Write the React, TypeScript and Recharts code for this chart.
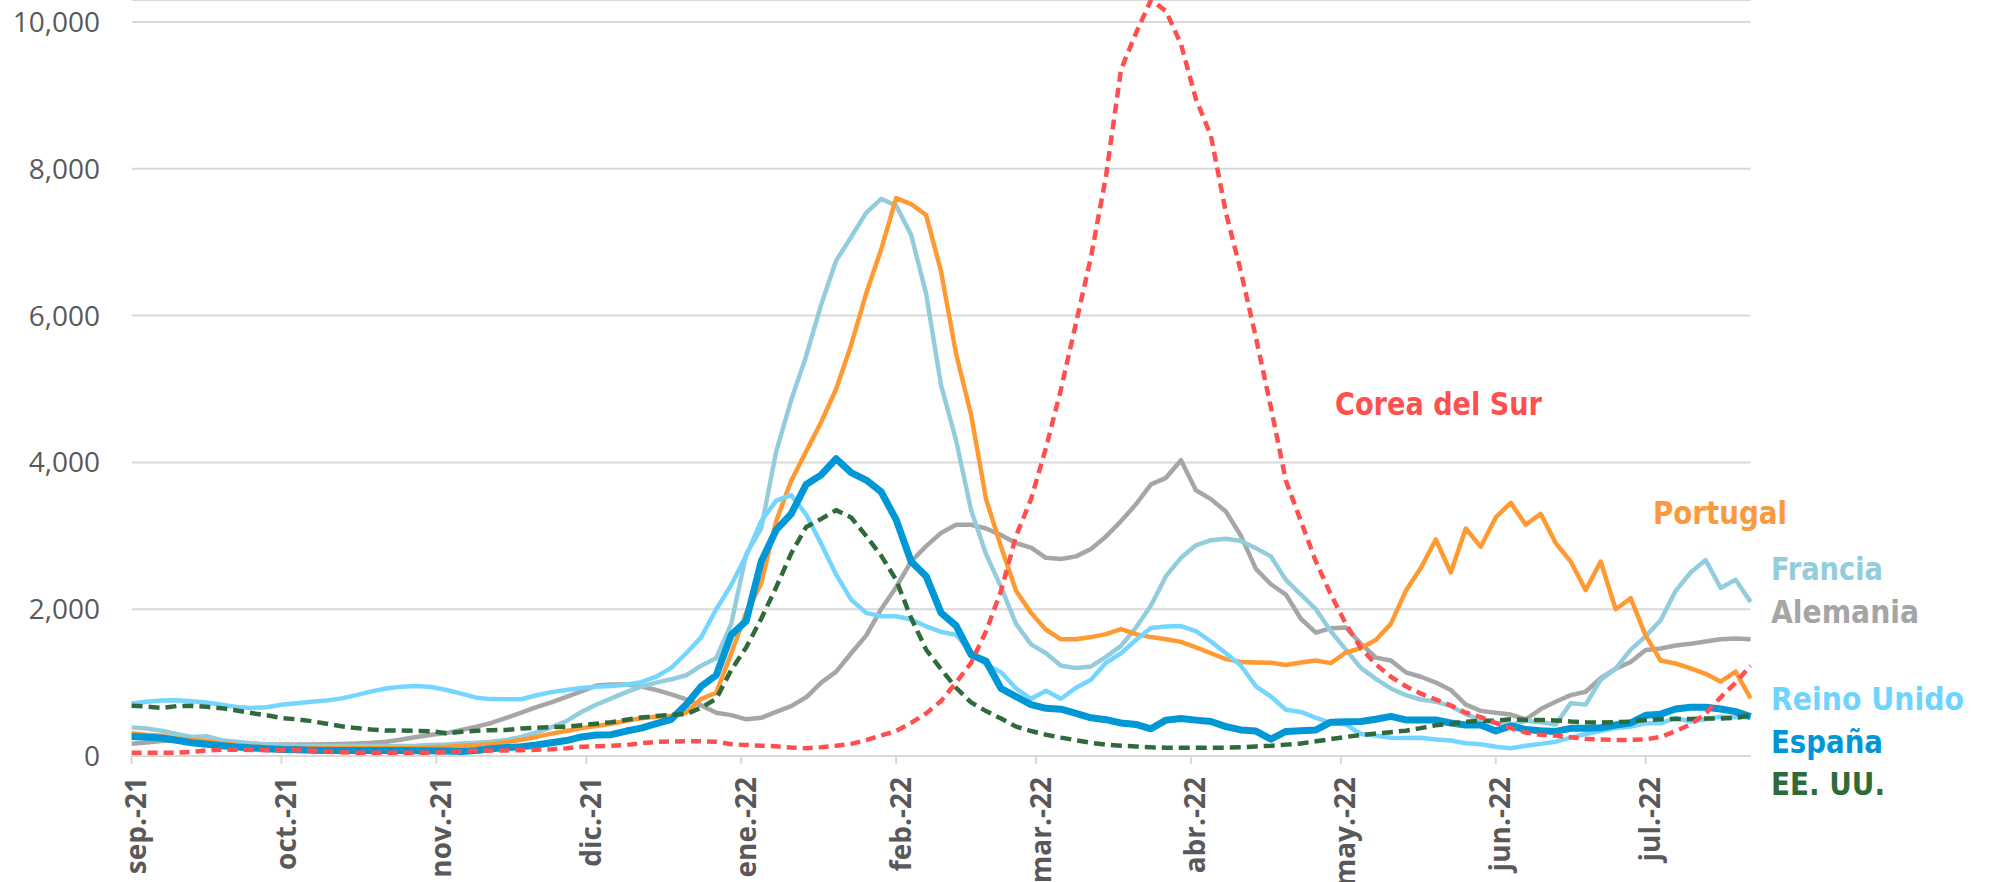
import { LineChart, Line, XAxis, YAxis, CartesianGrid } from 'recharts';

// one sample every 3 days, starting 1 Sep 2021 (day 0) up to 22 Jul 2022 (day 324)
const STEP_DAYS = 3;

const MONTH_TICKS = [0, 30, 61, 91, 122, 153, 181, 212, 242, 273, 303];
const MONTH_LABELS = [
  'sep.-21', 'oct.-21', 'nov.-21', 'dic.-21', 'ene.-22', 'feb.-22',
  'mar.-22', 'abr.-22', 'may.-22', 'jun.-22', 'jul.-22',
];
const Y_TICKS = [0, 2000, 4000, 6000, 8000, 10000];

const FRANCIA = [
  390, 375, 345, 300, 260, 270, 215, 195, 175, 157,
  145, 140, 135, 135, 135, 135, 135, 135, 135, 140,
  150, 157, 170, 180, 195, 218, 260, 320, 390, 475,
  600, 700, 785, 870, 945, 1000, 1045, 1100, 1230, 1335,
  1800, 2750, 3100, 4150, 4850, 5450, 6150, 6750, 7070, 7400,
  7590, 7500, 7100, 6300, 5050, 4300, 3350, 2750, 2300, 1800,
  1520, 1400, 1230, 1200, 1220, 1350, 1500, 1750, 2050, 2450,
  2700, 2870, 2940, 2960, 2930, 2830, 2720, 2400, 2200, 2000,
  1700, 1450, 1200, 1050, 920, 830, 770, 740, 680, 570,
  490, 450, 425, 480, 460, 430, 720, 700, 1040, 1190,
  1450, 1630, 1850, 2250, 2500, 2670, 2290, 2400, 2100,
];

const ALEMANIA = [
  166, 185, 205, 211, 205, 189, 170, 160, 157, 157,
  157, 157, 157, 160, 165, 172, 180, 195, 225, 260,
  290, 312, 355, 400, 450, 520, 590, 665, 730, 805,
  880, 960, 975, 975, 945, 900, 840, 770, 690, 590,
  557, 500, 520, 600, 680, 800, 1000, 1150, 1400, 1640,
  2000, 2300, 2650, 2860, 3040, 3150, 3150, 3100, 3010, 2900,
  2840, 2700, 2685, 2720, 2820, 2990, 3200, 3430, 3700, 3790,
  4030, 3620, 3500, 3330, 3000, 2550, 2340, 2200, 1870, 1680,
  1741, 1750, 1530, 1340, 1300, 1140, 1080, 1000, 900, 700,
  615, 590, 565, 500, 640, 740, 830, 875, 1060, 1190,
  1280, 1445, 1465, 1505, 1530, 1560, 1590, 1600, 1590,
];

const PORTUGAL = [
  310, 290, 275, 240, 220, 205, 175, 150, 130, 118,
  112, 110, 110, 110, 110, 110, 110, 110, 110, 110,
  118, 125, 140, 150, 160, 190, 220, 260, 305, 340,
  380, 410, 440, 480, 515, 535, 550, 590, 780, 860,
  1400, 1950, 2350, 3200, 3750, 4150, 4550, 5000, 5600, 6300,
  6900, 7600, 7520, 7370, 6600, 5480, 4650, 3500, 2850, 2250,
  1950, 1720, 1590, 1590, 1620, 1660, 1730, 1660, 1620, 1590,
  1555, 1480, 1400, 1320, 1280, 1275, 1270, 1240, 1275, 1300,
  1265, 1410, 1470, 1580, 1800, 2250, 2560, 2950, 2500, 3100,
  2850, 3250, 3450, 3150, 3300, 2900, 2650, 2260, 2650, 2000,
  2150, 1640, 1300, 1260, 1195, 1120, 1014, 1150, 786,
];

const REINO_UNIDO = [
  715, 740, 755, 760, 745, 730, 697, 668, 655, 665,
  697, 720, 740, 755, 785, 830, 880, 920, 945, 953,
  940, 900, 850, 795, 775, 773, 773, 827, 870, 900,
  925, 945, 955, 970, 1005, 1080, 1200, 1400, 1620, 2000,
  2330, 2730, 3200, 3480, 3555, 3290, 2890, 2470, 2130, 1950,
  1903, 1903, 1860, 1767, 1690, 1653, 1420, 1246, 1140, 920,
  780, 890, 780, 930, 1040, 1270, 1400, 1580, 1745, 1765,
  1770, 1700, 1560, 1400, 1230, 950, 810, 630, 600, 520,
  450, 430, 300, 280, 250, 245, 250, 225, 210, 173,
  160, 125, 105, 140, 165, 195, 250, 300, 340, 380,
  400, 445, 445, 520, 468, 500, 536, 527, 527,
];

const ESPANA = [
  265, 255, 245, 215, 180, 160, 140, 122, 110, 100,
  90, 85, 80, 76, 76, 76, 76, 76, 76, 72,
  70, 68, 60, 75, 100, 115, 125, 150, 180, 210,
  260, 285, 290, 340, 380, 440, 500, 700, 950, 1100,
  1650, 1840, 2650, 3080, 3300, 3700, 3830, 4050, 3860, 3760,
  3600, 3220, 2650, 2450, 1950, 1775, 1380, 1291, 920, 810,
  700, 650, 637, 580, 520, 495, 450, 430, 370, 489,
  510, 489, 470, 400, 355, 340, 230, 335, 345, 355,
  460, 468, 470, 500, 540, 491, 491, 491, 450, 423,
  423, 340, 410, 360, 345, 335, 377, 377, 385, 423,
  450, 555, 570, 640, 664, 664, 640, 605, 536,
];

const EEUU = [
  683, 675, 655, 680, 683, 670, 652, 620, 585, 555,
  517, 500, 475, 440, 405, 380, 360, 346, 346, 343,
  338, 310, 330, 345, 352, 355, 375, 385, 392, 400,
  420, 440, 460, 495, 525, 545, 562, 570, 660, 780,
  1170, 1480, 1870, 2300, 2760, 3120, 3230, 3350, 3250, 3000,
  2730, 2400, 1880, 1450, 1180, 930, 730, 612, 510, 400,
  340, 290, 250, 215, 180, 155, 140, 130, 118, 114,
  114, 114, 114, 114, 118, 130, 140, 155, 170, 200,
  230, 260, 285, 305, 325, 345, 380, 420, 440, 468,
  480, 482, 500, 491, 491, 485, 470, 460, 455, 460,
  468, 490, 500, 505, 505, 510, 512, 520, 555,
];

const COREA = [
  45, 45, 45, 45, 55, 76, 85, 85, 82, 80,
  80, 80, 75, 60, 50, 45, 45, 45, 45, 45,
  45, 50, 62, 70, 75, 76, 80, 85, 92, 105,
  125, 132, 140, 150, 175, 192, 198, 202, 200, 195,
  160, 150, 140, 132, 115, 105, 120, 140, 165, 215,
  280, 340, 450, 580, 750, 1000, 1270, 1700, 2250, 3000,
  3500, 4200, 5000, 5900, 6800, 7900, 9350, 9850, 10300, 10150,
  9700, 8950, 8450, 7400, 6600, 5700, 4750, 3750, 3200, 2650,
  2200, 1800, 1470, 1250, 1080, 950, 850, 770, 690, 590,
  530, 450, 380, 320, 290, 278, 255, 235, 225, 218,
  220, 227, 260, 340, 430, 580, 800, 1000, 1230,
];

const SERIES = [
  { key: 'alemania', values: ALEMANIA, color: '#A6A6A6', width: 4.5 },
  { key: 'francia', values: FRANCIA, color: '#93CDDD', width: 4.5 },
  { key: 'portugal', values: PORTUGAL, color: '#FF9A33', width: 4.5 },
  { key: 'reinoUnido', values: REINO_UNIDO, color: '#74D6FF', width: 4.5 },
  { key: 'espana', values: ESPANA, color: '#0097D7', width: 7 },
  { key: 'eeuu', values: EEUU, color: '#2E6B3A', width: 4.5, dash: '11 6' },
  { key: 'corea', values: COREA, color: '#FF4F4F', width: 4.5, dash: '10 6' },
];

const LABELS = [
  { text: 'Corea del Sur', x: 1335, y: 415, w: 207, color: '#FF5050' },
  { text: 'Portugal', x: 1653, y: 524, w: 134, color: '#F99A3E' },
  { text: 'Francia', x: 1771, y: 580, w: 112, color: '#92CDDC' },
  { text: 'Alemania', x: 1771, y: 623, w: 148, color: '#A5A5A5' },
  { text: 'Reino Unido', x: 1771, y: 710, w: 193, color: '#6DD3FF' },
  { text: 'España', x: 1771, y: 753, w: 112, color: '#0096D6' },
  { text: 'EE. UU.', x: 1771, y: 795, w: 114, color: '#2E6B3A' },
];

const chartData = FRANCIA.map((_, i) => {
  const row: Record<string, number> = { day: i * STEP_DAYS };
  SERIES.forEach((s) => {
    row[s.key] = s.values[i];
  });
  return row;
});

function MonthTick(props: any) {
  const { x, payload } = props;
  const idx = MONTH_TICKS.indexOf(payload.value);
  return (
    <text
      transform={`translate(${x + 14.5}, 777) rotate(-90)`}
      textAnchor="end"
      fill="#595959"
      fontSize={28}
      fontWeight={700}
      fontFamily="'Open Sans', sans-serif"
    >
      {MONTH_LABELS[idx]}
    </text>
  );
}

function ValueTick(props: any) {
  const { y, payload } = props;
  return (
    <text
      x={100}
      y={y}
      dy={10}
      textAnchor="end"
      fill="#595959"
      fontSize={28}
      fontFamily="'Open Sans', sans-serif"
    >
      {Number(payload.value).toLocaleString('en-US')}
    </text>
  );
}

export default function App() {
  return (
    <div style={{ position: 'absolute', left: 0, top: 0, width: 1995, height: 882, background: '#fff' }}>
      <LineChart
        width={1995}
        height={882}
        data={chartData}
        margin={{ top: 0, right: 244.4, bottom: 0, left: 0 }}
      >
        <CartesianGrid vertical={false} stroke="#D9D9D9" strokeWidth={2} />
        <XAxis
          type="number"
          dataKey="day"
          domain={[0, 324]}
          ticks={MONTH_TICKS}
          interval={0}
          height={126}
          tickSize={8}
          axisLine={{ stroke: '#D9D9D9', strokeWidth: 2 }}
          tickLine={{ stroke: '#D9D9D9', strokeWidth: 2 }}
          tick={<MonthTick />}
        />
        <YAxis
          type="number"
          domain={[0, 10296]}
          ticks={Y_TICKS}
          width={131.6}
          axisLine={false}
          tickLine={false}
          tick={<ValueTick />}
        />
        {SERIES.map((s) => (
          <Line
            key={s.key}
            type="linear"
            dataKey={s.key}
            stroke={s.color}
            strokeWidth={s.width}
            strokeDasharray={s.dash}
            strokeLinejoin="round"
            dot={false}
            activeDot={false}
            isAnimationActive={false}
          />
        ))}
      </LineChart>
      <svg
        width={1995}
        height={882}
        style={{ position: 'absolute', left: 0, top: 0, pointerEvents: 'none' }}
      >
        {LABELS.map((l) => (
          <text
            key={l.text}
            x={l.x}
            y={l.y}
            fill={l.color}
            fontSize={32}
            fontWeight={700}
            textLength={l.w}
            lengthAdjust="spacingAndGlyphs"
            fontFamily="'Liberation Sans Narrow', 'DejaVu Sans Condensed', 'Open Sans', sans-serif"
          >
            {l.text}
          </text>
        ))}
      </svg>
    </div>
  );
}
